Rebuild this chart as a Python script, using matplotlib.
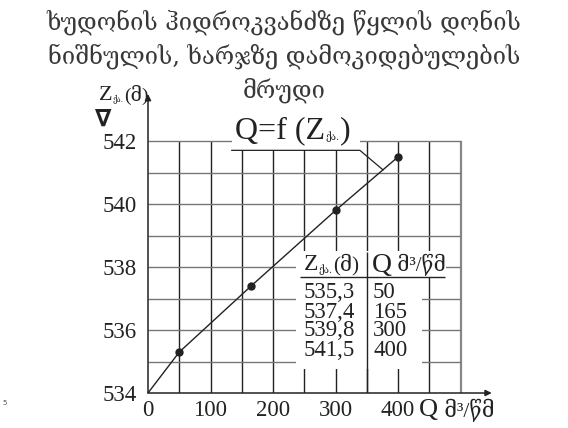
import numpy as np
import matplotlib.pyplot as plt
from matplotlib.patches import Rectangle

# ხუდონის ჰესი: Z = f(Q)
q_table = [50, 165, 300, 400]
z_table = [535.3, 537.4, 539.8, 541.5]
curve_q = [0] + q_table
curve_z = [534.0] + z_table

x_ticks = [0, 100, 200, 300, 400]
y_ticks = [534, 536, 538, 540, 542]

title_lines = ["ხუდონის ჰიდროკვანძზე წყლის დონის",
               "ნიშნულის, ხარჯზე დამოკიდებულების",
               "მრუდი"]
sub = "ქა."
unit_q = "მ³/წმ"

SERIF = ['Liberation Serif', 'DejaVu Serif', 'DejaVu Sans']
GEO = ['DejaVu Serif', 'DejaVu Sans']
INK = '#222222'
W, H = 568, 428

fig = plt.figure(figsize=(W/100, H/100), dpi=100)
ax = fig.add_axes([148/W, 35/H, 343.75/W, 299/H])
ax.set_xlim(0, 550)
ax.set_ylim(534, 543.5)
for s in ax.spines.values():
    s.set_visible(False)
rend = fig.canvas.get_renderer()


def put(x, y, s, size, fam=SERIF, **kw):
    # текст в пиксельных координатах фигуры
    return fig.text(x/W, 1 - y/H, s, fontsize=size, family=fam, va='center',
                    color=INK, **kw)


def chain(x, y, pieces):
    # куски текста подряд: (строка, кегль, шрифт, сдвиг вниз)
    for s, size, fam, dy in pieces:
        t = put(x, y + dy, s, size, fam)
        x = t.get_window_extent(renderer=rend).x1 + 0.5


# сетка
ax.vlines(np.arange(50, 451, 50), 534, 542, colors=INK, lw=1.0, zorder=1)
ax.vlines(500, 534, 542, colors='#888888', lw=1.6, zorder=1)
ax.hlines(np.arange(535, 543), 0, 500, colors='#777777', lw=1.0, zorder=1)

# белые поля под подписи и таблицу
ax.add_patch(Rectangle((134, 541.71), 205, 1.2, fc='white', ec='none', zorder=2))
ax.add_patch(Rectangle((237, 534.76), 201, 3.74, fc='white', ec='none', zorder=2))
ax.add_patch(Rectangle((237, 537.68), 240, 0.82, fc='white', ec='none', zorder=2))

# оси со стрелками
arrow = dict(arrowstyle='-|>', lw=1.1, color=INK, mutation_scale=9, shrinkA=0, shrinkB=0)
ax.annotate('', xy=(550, 534), xytext=(0, 534), annotation_clip=False,
            arrowprops=arrow, zorder=5)
ax.annotate('', xy=(0, 543.5), xytext=(0, 534), annotation_clip=False,
            arrowprops=arrow, zorder=5)

# кривая
ax.plot(curve_q, curve_z, color=INK, lw=1.0, zorder=4)
ax.plot(q_table, z_table, 'o', color=INK, ms=5, zorder=5)

# выноска Q=f(Z)
ax.plot([134, 339, 376], [541.71, 541.71, 541.09], color=INK, lw=0.9, zorder=4)

# таблица
ax.vlines(350, 534, 538.48, colors=INK, lw=1.0, zorder=3)
ax.hlines(537.68, 243, 475, colors=INK, lw=1.0, zorder=3)

ax.set_xticks(x_ticks)
ax.set_yticks(y_ticks)
ax.tick_params(length=0, labelsize=16.5, colors=INK)
ax.tick_params(axis='x', pad=5)
ax.tick_params(axis='y', pad=8)
for lab in ax.get_xticklabels() + ax.get_yticklabels():
    lab.set_family(SERIF)

# заголовок
for i, line in enumerate(title_lines):
    put(284, 22 + 34*i, line, 17, fam=GEO, ha='center', alpha=0.9)

# подпись оси Z
chain(99, 95, [("Z", 16, SERIF, 0), (sub, 5.5, GEO, 4), ("(მ)", 14, SERIF, 0)])
put(95, 119, "∇", 17, fam=['DejaVu Sans'], fontweight='bold')

# подпись оси Q
chain(419, 410, [("Q", 19, SERIF, 0), (" " + unit_q, 15.5, SERIF, 0)])

# Q=f(Z)
chain(235, 131, [("Q=f (Z", 23, SERIF, 0), (sub, 7, GEO, 6), (")", 23, SERIF, 0)])

# шапка таблицы
chain(304, 265, [("Z", 17, SERIF, 0), (sub, 7, GEO, 5), ("(მ)", 15, SERIF, 0)])
chain(372, 265, [("Q", 20, SERIF, 0), (" " + unit_q, 15, SERIF, 0)])
for i, (z, q) in enumerate(zip(z_table, q_table)):
    y = 293 + 19*i
    put(304, y, f"{z:.1f}".replace('.', ','), 16.5)
    put(373, y, str(q), 16.5)

fig.text(2/W, 1 - 405/H, "5", fontsize=5, color='#555555')

fig.savefig("out.png", dpi=100)
